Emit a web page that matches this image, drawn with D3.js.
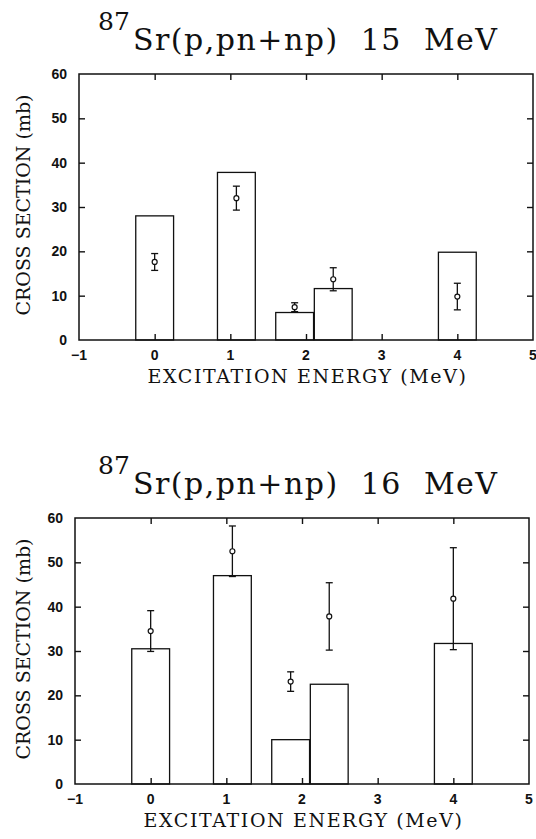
<!DOCTYPE html>
<html>
<head>
<meta charset="utf-8">
<script src="https://cdn.jsdelivr.net/npm/d3@7"></script>
<style>
  body { margin: 0; background: #fff; }
  svg { display: block; }
</style>
</head>
<body>
<svg id="chart"></svg>
<script>
// Level energies (MeV) shared by both panels
const levelEnergy = [0, 1.08, 1.85, 2.36, 4.0];
const barWidth = 0.5;

// 15 MeV: calculated bars and measured points with errors (mb)
const bars15 = [28.0, 37.8, 6.2, 11.6, 19.8];
const meas15 = [17.6, 32.0, 7.4, 13.7, 9.8];
const err15 = [1.9, 2.7, 1.0, 2.6, 3.0];

// 16 MeV
const bars16 = [30.5, 47.0, 10.0, 22.5, 31.7];
const meas16 = [34.5, 52.5, 23.1, 37.8, 41.8];
const err16 = [4.6, 5.7, 2.2, 7.6, 11.5];

const xTicks = [-1, 0, 1, 2, 3, 4, 5];
const yTicks = [0, 10, 20, 30, 40, 50, 60];

const W = 536, H = 839;
const svg = d3.select("#chart").attr("width", W).attr("height", H);
const ink = "#111";

// Draw one panel: title, frame, bars and error bars
function drawPanel(top, left, energy, bars, meas, err) {
    const w = 454, h = 266;
    const g = svg.append("g").attr("transform", `translate(${left},${top})`);

    const x = d3.scaleLinear().domain([-1, 5]).range([0, w]);
    const y = d3.scaleLinear().domain([0, 60]).range([h, 0]);

    // title with superscript mass number
    g.append("text")
        .attr("x", 98 - left).attr("y", -44)
        .attr("font-family", "'DejaVu Serif', serif")
        .attr("font-size", "25px")
        .attr("fill", ink)
        .text("87");
    g.append("text")
        .attr("x", 133 - left).attr("y", -24)
        .attr("font-family", "'DejaVu Serif', serif")
        .attr("font-size", "30px")
        .attr("fill", ink)
        .attr("textLength", 364)
        .attr("lengthAdjust", "spacing")
        .text(`Sr(p,pn+np)\u00a0\u00a0${energy}\u00a0\u00a0MeV`);

    // bars
    g.selectAll("rect.bar")
        .data(bars)
        .enter().append("rect")
        .attr("class", "bar")
        .attr("x", (d, i) => x(levelEnergy[i] - barWidth / 2))
        .attr("width", (d, i) => x(levelEnergy[i] + barWidth / 2) - x(levelEnergy[i] - barWidth / 2))
        .attr("y", d => y(d))
        .attr("height", d => h - y(d))
        .attr("fill", "none")
        .attr("stroke", ink)
        .attr("stroke-width", 1.3);

    // error bars
    const pts = meas.map((v, i) => ({ e: levelEnergy[i], v: v, s: err[i] }));
    const eb = g.selectAll("g.err").data(pts).enter().append("g").attr("class", "err");
    eb.append("line")
        .attr("x1", d => x(d.e)).attr("x2", d => x(d.e))
        .attr("y1", d => y(d.v + d.s)).attr("y2", d => y(d.v - d.s));
    eb.append("line")
        .attr("x1", d => x(d.e) - 3.5).attr("x2", d => x(d.e) + 3.5)
        .attr("y1", d => y(d.v + d.s)).attr("y2", d => y(d.v + d.s));
    eb.append("line")
        .attr("x1", d => x(d.e) - 3.5).attr("x2", d => x(d.e) + 3.5)
        .attr("y1", d => y(d.v - d.s)).attr("y2", d => y(d.v - d.s));
    eb.selectAll("line").attr("stroke", ink).attr("stroke-width", 1.3);
    eb.append("circle")
        .attr("cx", d => x(d.e)).attr("cy", d => y(d.v))
        .attr("r", 2.5)
        .attr("fill", "#fff")
        .attr("stroke", ink)
        .attr("stroke-width", 1.2);

    // axes with inward ticks, no labels on top/right
    const tickX = xTicks.slice(1, -1), tickY = yTicks.slice(1, -1);
    g.append("g").attr("transform", `translate(0,${h})`)
        .call(d3.axisTop(x).tickValues(tickX).tickSize(6).tickFormat(""));
    g.append("g")
        .call(d3.axisBottom(x).tickValues(tickX).tickSize(6).tickFormat(""));
    g.append("g")
        .call(d3.axisRight(y).tickValues(tickY).tickSize(6).tickFormat(""));
    g.append("g").attr("transform", `translate(${w},0)`)
        .call(d3.axisLeft(y).tickValues(tickY).tickSize(6).tickFormat(""));
    g.selectAll(".domain").remove();
    g.selectAll(".tick line").attr("stroke", ink).attr("stroke-width", 1.4);

    // frame
    g.append("rect")
        .attr("width", w).attr("height", h)
        .attr("fill", "none").attr("stroke", ink).attr("stroke-width", 1.5);

    // tick labels
    g.selectAll("text.xl").data(xTicks).enter().append("text")
        .attr("class", "xl")
        .attr("x", d => x(d)).attr("y", h + 20)
        .attr("text-anchor", "middle")
        .attr("font-family", "'Liberation Sans', Arial, sans-serif")
        .attr("font-weight", "bold")
        .attr("font-size", "14px")
        .attr("fill", ink)
        .text(d => d < 0 ? "\u2212" + Math.abs(d) : d);
    g.selectAll("text.yl").data(yTicks).enter().append("text")
        .attr("class", "yl")
        .attr("x", -12).attr("y", d => y(d) + 5)
        .attr("text-anchor", "end")
        .attr("font-family", "'Liberation Sans', Arial, sans-serif")
        .attr("font-weight", "bold")
        .attr("font-size", "14px")
        .attr("fill", ink)
        .text(d => d);

    // axis titles
    g.append("text")
        .attr("x", x(2.02)).attr("y", h + 43)
        .attr("text-anchor", "middle")
        .attr("font-family", "'DejaVu Serif', serif")
        .attr("font-size", "19px")
        .attr("letter-spacing", "1.6px")
        .attr("fill", ink)
        .text("EXCITATION ENERGY (MeV)");
    g.append("text")
        .attr("transform", `translate(${-left + 30},${h / 2 - 2}) rotate(-90)`)
        .attr("text-anchor", "middle")
        .attr("font-family", "'DejaVu Serif', serif")
        .attr("font-size", "19px")
        .attr("fill", ink)
        .text("CROSS SECTION (mb)");
}

drawPanel(74, 79, "15", bars15, meas15, err15);
drawPanel(518, 75, "16", bars16, meas16, err16);
</script>
</body>
</html>
